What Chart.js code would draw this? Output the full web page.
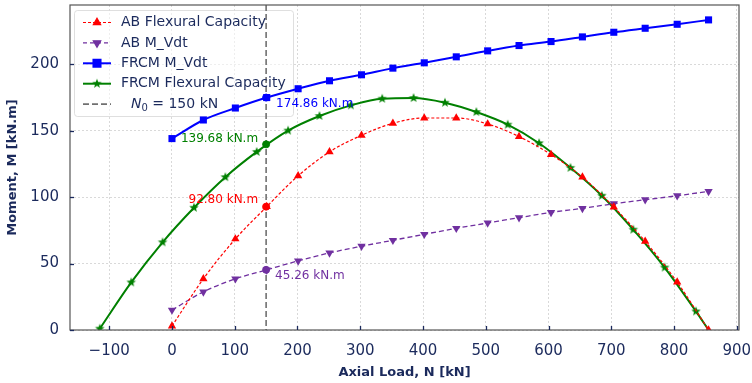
<!DOCTYPE html>
<html><head><meta charset="utf-8">
<script src="https://cdn.jsdelivr.net/npm/chart.js@4.4.1/dist/chart.umd.min.js"></script>
<style>html,body{margin:0;padding:0;background:#fff;}#wrap{width:752px;height:383px;}</style>
</head><body><div id="wrap"><canvas id="c" width="752" height="383"></canvas></div>
<script>
// ---------- data ----------
const nAB = [0, 50, 101, 151, 201, 251, 302, 352, 402, 453, 503, 553, 604, 654, 704, 754, 805, 855];
const abFlexural = [3, 38.5, 68.5, 92.8, 116, 134, 146.5, 155.5, 159.5, 159.5, 155, 145.5, 132, 115, 92.5, 66.7, 36, 0];
const abMVdt = [15, 28.7, 38.5, 45.26, 52, 58, 63, 67.5, 72, 76.5, 80.5, 84.5, 88.5, 91.5, 95, 98, 101, 104.3];
const frcmMVdt = [144, 158, 167, 174.86, 181.5, 187.5, 192, 197, 201, 205.5, 210, 214, 217, 220.5, 224, 227, 230, 233.3];
const nFRCMFlex = [-115, -65, -15, 35, 85, 135, 185, 235, 285, 335, 385, 435, 485, 535, 585, 635, 685, 735, 785, 835, 855];
const frcmFlexural = [1, 35.8, 66, 92, 115, 134, 150, 161, 169, 174, 174.5, 171, 164, 154.5, 140.5, 122, 101, 75.5, 47, 14, 0];
const N0 = 150;
const atN0Labels = ['92.80 kN.m', '45.26 kN.m', '174.86 kN.m', '139.68 kN.m'];
const atN0Values = [92.80, 45.26, 174.86, 139.68];
const xTicks = [-100, 0, 100, 200, 300, 400, 500, 600, 700, 800, 900];
const yTicks = [0, 50, 100, 150, 200];
const seriesNames = ['AB Flexural Capacity', 'AB M_Vdt', 'FRCM M_Vdt', 'FRCM Flexural Capacity'];

// ---------- styling ----------
const NAVY = '#1b2a5c';
const FONT = "'DejaVu Sans', sans-serif";
const RED = '#ff0000', PURPLE = '#7030a0', BLUE = '#0000ff', GREEN = '#008000', GRAY = '#707070';

function pts(xs, ys) { return xs.map((x, i) => ({ x: x, y: ys[i] })); }
function makeStar(color, r) {
  const s = Math.ceil(r * 2 + 2);
  const c = document.createElement('canvas'); c.width = s; c.height = s;
  const g = c.getContext('2d'); g.fillStyle = color; g.beginPath();
  for (let i = 0; i < 10; i++) {
    const a = -Math.PI / 2 + i * Math.PI / 5;
    const rr = i % 2 === 0 ? r : r * 0.42;
    g.lineTo(s / 2 + rr * Math.cos(a), s / 2 + rr * Math.sin(a));
  }
  g.closePath(); g.fill(); return c;
}
const star = makeStar(GREEN, 5);
const lastFlex = nFRCMFlex.length - 1;

const datasets = [
  { label: seriesNames[0], data: pts(nAB, abFlexural), borderColor: RED, backgroundColor: RED,
    borderWidth: 1.2, borderDash: [3, 2], pointStyle: 'triangle', pointRadius: 4.8, tension: 0.4, cubicInterpolationMode: 'monotone' },
  { label: seriesNames[1], data: pts(nAB, abMVdt), borderColor: PURPLE, backgroundColor: PURPLE,
    borderWidth: 1.3, borderDash: [5, 3], pointStyle: 'triangle', rotation: 180, pointRadius: 4.8, tension: 0.4, cubicInterpolationMode: 'monotone' },
  { label: seriesNames[2], data: pts(nAB, frcmMVdt), borderColor: BLUE, backgroundColor: BLUE,
    borderWidth: 2, pointStyle: 'rect', pointRadius: 5, tension: 0.4, cubicInterpolationMode: 'monotone' },
  { label: seriesNames[3], data: pts(nFRCMFlex, frcmFlexural), borderColor: GREEN, backgroundColor: GREEN,
    borderWidth: 2, pointStyle: star, pointRadius: ctx => ctx.dataIndex === lastFlex ? 0 : 5, tension: 0.4, cubicInterpolationMode: 'monotone' }
];

const legendStyles = [
  { color: RED, dash: [3, 2], width: 1.2, style: 'triangle', rot: 0, r: 4.2 },
  { color: PURPLE, dash: [4, 3], width: 1.3, style: 'triangle', rot: 180, r: 4.2 },
  { color: BLUE, dash: [], width: 2, style: 'rect', rot: 0, r: 5 },
  { color: GREEN, dash: [], width: 2, style: star, rot: 0, r: 4 }
];

const frame = {
  id: 'frame',
  beforeDatasetsDraw(chart) {
    const { ctx, chartArea: a, scales: { x } } = chart;
    ctx.save();
    ctx.fillStyle = 'rgba(255,255,255,0.55)';
    ctx.strokeStyle = 'rgba(215,215,215,0.8)';
    ctx.lineWidth = 1;
    ctx.beginPath();
    if (ctx.roundRect) ctx.roundRect(74.5, 10.5, 219, 106, 3); else ctx.rect(74.5, 10.5, 219, 106);
    ctx.fill(); ctx.stroke();
    const px = x.getPixelForValue(N0);
    ctx.strokeStyle = GRAY; ctx.lineWidth = 1.6; ctx.setLineDash([6, 3]);
    ctx.beginPath(); ctx.moveTo(px, a.top); ctx.lineTo(px, a.bottom); ctx.stroke();
    ctx.restore();
  },
  afterDatasetsDraw(chart) {
    const { ctx, chartArea: a, scales: { x, y } } = chart;
    ctx.save();
    const colors = [RED, PURPLE, BLUE, GREEN];
    const px = x.getPixelForValue(N0);
    atN0Values.forEach((v, i) => {
      ctx.fillStyle = colors[i]; ctx.strokeStyle = colors[i]; ctx.lineWidth = 1; ctx.setLineDash([]);
      Chart.helpers.drawPoint(ctx, { pointStyle: 'circle', radius: 3.5, rotation: 0, borderWidth: 1 }, px, y.getPixelForValue(v));
    });
    ctx.font = '12px ' + FONT;
    ctx.textBaseline = 'middle';
    const place = [
      { align: 'right', dx: -8, dy: -7 },
      { align: 'left', dx: 9, dy: 6 },
      { align: 'left', dx: 10, dy: 6 },
      { align: 'right', dx: -8, dy: -5 }
    ];
    atN0Values.forEach((v, i) => {
      ctx.fillStyle = colors[i]; ctx.textAlign = place[i].align;
      ctx.fillText(atN0Labels[i], px + place[i].dx, y.getPixelForValue(v) + place[i].dy);
    });
    ctx.strokeStyle = '#555555'; ctx.lineWidth = 1.2;
    ctx.strokeRect(a.left, a.top, a.right - a.left, a.bottom - a.top);
    ctx.strokeStyle = NAVY; ctx.lineWidth = 1.3;
    xTicks.forEach(t => { const p = Math.round(x.getPixelForValue(t)) + 0.5; ctx.beginPath(); ctx.moveTo(p, a.bottom); ctx.lineTo(p, a.bottom - 4); ctx.stroke(); });
    yTicks.forEach(t => { const p = Math.round(y.getPixelForValue(t)) + 0.5; ctx.beginPath(); ctx.moveTo(a.left, p); ctx.lineTo(a.left + 4, p); ctx.stroke(); });
    ctx.textAlign = 'left'; ctx.textBaseline = 'middle';
    const rowY0 = 22.5, rowH = 20.4, hx0 = 83, hx1 = 111, tx = 121;
    legendStyles.forEach((s, i) => {
      const ry = rowY0 + i * rowH;
      ctx.strokeStyle = s.color; ctx.fillStyle = s.color; ctx.lineWidth = s.width; ctx.setLineDash(s.dash);
      ctx.beginPath(); ctx.moveTo(hx0, ry); ctx.lineTo(hx1, ry); ctx.stroke();
      ctx.setLineDash([]);
      Chart.helpers.drawPoint(ctx, { pointStyle: s.style, radius: s.r, rotation: s.rot, borderWidth: 1 }, (hx0 + hx1) / 2, ry);
      ctx.fillStyle = NAVY; ctx.font = '14px ' + FONT;
      ctx.fillText(chart.data.datasets[i].label, tx, ry);
    });
    const ry = rowY0 + 4 * rowH;
    ctx.strokeStyle = GRAY; ctx.lineWidth = 1.6; ctx.setLineDash([6, 3]);
    ctx.beginPath(); ctx.moveTo(hx0, ry); ctx.lineTo(hx1, ry); ctx.stroke(); ctx.setLineDash([]);
    ctx.fillStyle = NAVY;
    let cx = 131;
    ctx.font = 'italic 14px ' + FONT; ctx.fillText('N', cx, ry); cx += ctx.measureText('N').width;
    ctx.font = '10px ' + FONT; ctx.fillText('0', cx, ry + 4); cx += ctx.measureText('0').width;
    ctx.font = '14px ' + FONT; ctx.fillText(' = ' + N0 + ' kN', cx, ry);
    ctx.restore();
  }
};

const fmt = v => v < 0 ? '\u2212' + Math.abs(v) : String(v);

new Chart(document.getElementById('c'), {
  type: 'scatter',
  data: { datasets: datasets.map(d => Object.assign({ showLine: true, pointBorderWidth: 0, pointHoverRadius: 0 }, d)) },
  options: {
    responsive: false, animation: false, devicePixelRatio: 1,
    layout: { padding: { top: 4, right: 13, left: 0, bottom: 0 } },
    plugins: { legend: { display: false }, tooltip: { enabled: false } },
    scales: {
      x: {
        type: 'linear', min: -162.5, max: 903.5,
        afterBuildTicks: s => { s.ticks = xTicks.map(v => ({ value: v })); },
        afterFit: s => { s.height = 53; s.paddingLeft = 0; s.paddingRight = 0; },
        grid: { color: '#d0d0d0', lineWidth: 0.8, drawTicks: false },
        border: { display: false, dash: [2, 2] },
        ticks: { color: NAVY, font: { family: FONT, size: 15 }, padding: 12, maxRotation: 0, autoSkip: false, callback: fmt },
        title: { display: true, text: 'Axial Load, N [kN]', color: NAVY, font: { family: FONT, size: 13, weight: 'bold' }, padding: { top: 0, bottom: 3 } }
      },
      y: {
        type: 'linear', min: 0, max: 244.5,
        afterBuildTicks: s => { s.ticks = yTicks.map(v => ({ value: v })); },
        afterFit: s => { s.width = 70; s.paddingTop = 0; s.paddingBottom = 0; },
        grid: { color: '#d0d0d0', lineWidth: 0.8, drawTicks: false },
        border: { display: false, dash: [2, 2] },
        ticks: { color: NAVY, font: { family: FONT, size: 15 }, padding: 11, callback: fmt },
        title: { display: true, text: 'Moment, M [kN.m]', color: NAVY, font: { family: FONT, size: 13, weight: 'bold' }, padding: { top: 5, bottom: 0 } }
      }
    }
  },
  plugins: [frame]
});
</script>
</body></html>
